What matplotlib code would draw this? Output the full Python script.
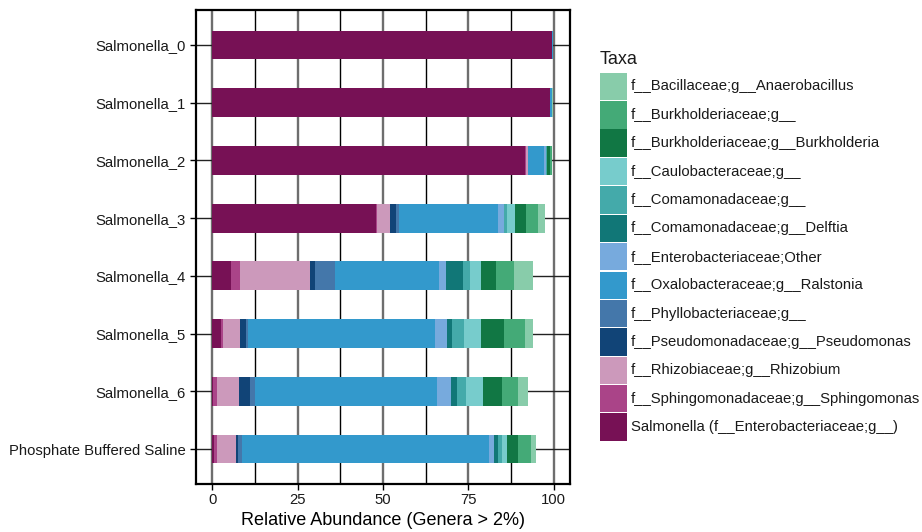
import matplotlib
matplotlib.use("Agg")
import matplotlib.pyplot as plt
import numpy as np

plt.rcParams["font.family"] = ["Liberation Sans", "DejaVu Sans"]

samples = ["Salmonella_0", "Salmonella_1", "Salmonella_2", "Salmonella_3",
           "Salmonella_4", "Salmonella_5", "Salmonella_6",
           "Phosphate Buffered Saline"]

# stacking order, left to right
taxa = [
    "Salmonella (f__Enterobacteriaceae;g__)",
    "f__Sphingomonadaceae;g__Sphingomonas",
    "f__Rhizobiaceae;g__Rhizobium",
    "f__Pseudomonadaceae;g__Pseudomonas",
    "f__Phyllobacteriaceae;g__",
    "f__Oxalobacteraceae;g__Ralstonia",
    "f__Enterobacteriaceae;Other",
    "f__Comamonadaceae;g__Delftia",
    "f__Comamonadaceae;g__",
    "f__Caulobacteraceae;g__",
    "f__Burkholderiaceae;g__Burkholderia",
    "f__Burkholderiaceae;g__",
    "f__Bacillaceae;g__Anaerobacillus",
]

salmonella     = [99.4, 98.8, 91.6, 47.9, 5.4, 2.5, 0.1, 0.5]
sphingomonas   = [0.0, 0.0, 0.2, 0.3, 2.7, 0.6, 1.3, 0.9]
rhizobium      = [0.0, 0.0, 0.6, 3.8, 20.5, 5.0, 6.4, 5.5]
pseudomonas    = [0.0, 0.0, 0.0, 1.8, 1.5, 1.8, 3.2, 0.6]
phyllobact     = [0.0, 0.0, 0.2, 0.9, 5.8, 0.5, 1.5, 1.2]
ralstonia      = [0.5, 0.6, 4.7, 29.0, 30.5, 54.8, 53.3, 72.4]
entero_other   = [0.0, 0.0, 0.3, 1.6, 2.1, 3.6, 4.1, 1.4]
delftia        = [0.0, 0.0, 0.2, 0.2, 4.9, 1.4, 1.8, 1.2]
comamonad      = [0.0, 0.0, 0.1, 0.7, 2.1, 3.5, 2.6, 1.2]
caulobact      = [0.0, 0.0, 0.2, 2.5, 3.2, 5.0, 5.0, 1.4]
burkholderia   = [0.0, 0.0, 0.8, 3.2, 4.4, 6.7, 5.6, 3.3]
burkholderiac  = [0.0, 0.0, 0.5, 3.4, 5.3, 6.2, 4.7, 3.8]
anaerobacillus = [0.0, 0.3, 0.1, 2.2, 5.5, 2.3, 2.9, 1.4]

values = [salmonella, sphingomonas, rhizobium, pseudomonas, phyllobact,
          ralstonia, entero_other, delftia, comamonad, caulobact,
          burkholderia, burkholderiac, anaerobacillus]

colors = ["#771155", "#AA4488", "#CC99BB", "#114477", "#4477AA", "#3399CC",
          "#77AADD", "#117777", "#44AAAA", "#77CCCC", "#117744", "#44AA77",
          "#88CCAA"]

W, H = 922, 532
fig = plt.figure(figsize=(W / 100, H / 100), dpi=100)
ax = fig.add_axes([195.7 / W, 1 - 483.7 / H,
                   (570.3 - 195.7) / W, (483.7 - 10.3) / H])

n = len(samples)
ypos = np.arange(n, 0, -1)
left = np.zeros(n)
for name, vals, col in zip(taxa, values, colors):
    vals = np.asarray(vals)
    ax.barh(ypos, vals, left=left, height=0.5, color=col,
            edgecolor="none", label=name, zorder=3)
    left += vals

ax.set_xlim(-4.86, 104.86)
ax.set_ylim(0.4, n + 0.6)
ax.set_yticks(ypos)
ax.set_yticklabels(samples)
ax.set_xticks([0, 25, 50, 75, 100])
ax.set_xticks([12.5, 37.5, 62.5, 87.5], minor=True)
ax.tick_params(which="major", direction="out", length=4, width=1,
               color="black", labelsize=10.7, labelcolor="#1a1a1a", pad=3)
ax.tick_params(which="minor", length=0)

ax.set_axisbelow(True)
ax.grid(which="major", axis="x", color="#6e6e6e", lw=1.7, zorder=0)
ax.grid(which="minor", axis="x", color="black", lw=1.0, zorder=0)
ax.grid(which="major", axis="y", color="#222222", lw=1.0, zorder=0)
for s in ax.spines.values():
    s.set_color("black")
    s.set_linewidth(1.6)

ax.set_xlabel("Relative Abundance (Genera > 2%)", fontsize=13, labelpad=3)

# legend: colour keys stacked with a thin white gap, labels to the right
key_x0, key_w = 600, 27
key_top, key_pitch, key_h = 72.7, 28.4, 27.4
fig.text(key_x0 / W, 1 - 59 / H, "Taxa", fontsize=13, color="#1a1a1a",
         ha="left", va="center")
for i, (name, col) in enumerate(zip(taxa[::-1], colors[::-1])):
    top = key_top + i * key_pitch
    fig.patches.append(plt.Rectangle((key_x0 / W, 1 - (top + key_h) / H),
                                     key_w / W, key_h / H,
                                     transform=fig.transFigure,
                                     facecolor=col, edgecolor="none"))
    fig.text((key_x0 + key_w + 4) / W, 1 - (top + key_h / 2) / H, name,
             fontsize=10.7, color="#1a1a1a", ha="left", va="center")

fig.savefig("out.png", dpi=100)
